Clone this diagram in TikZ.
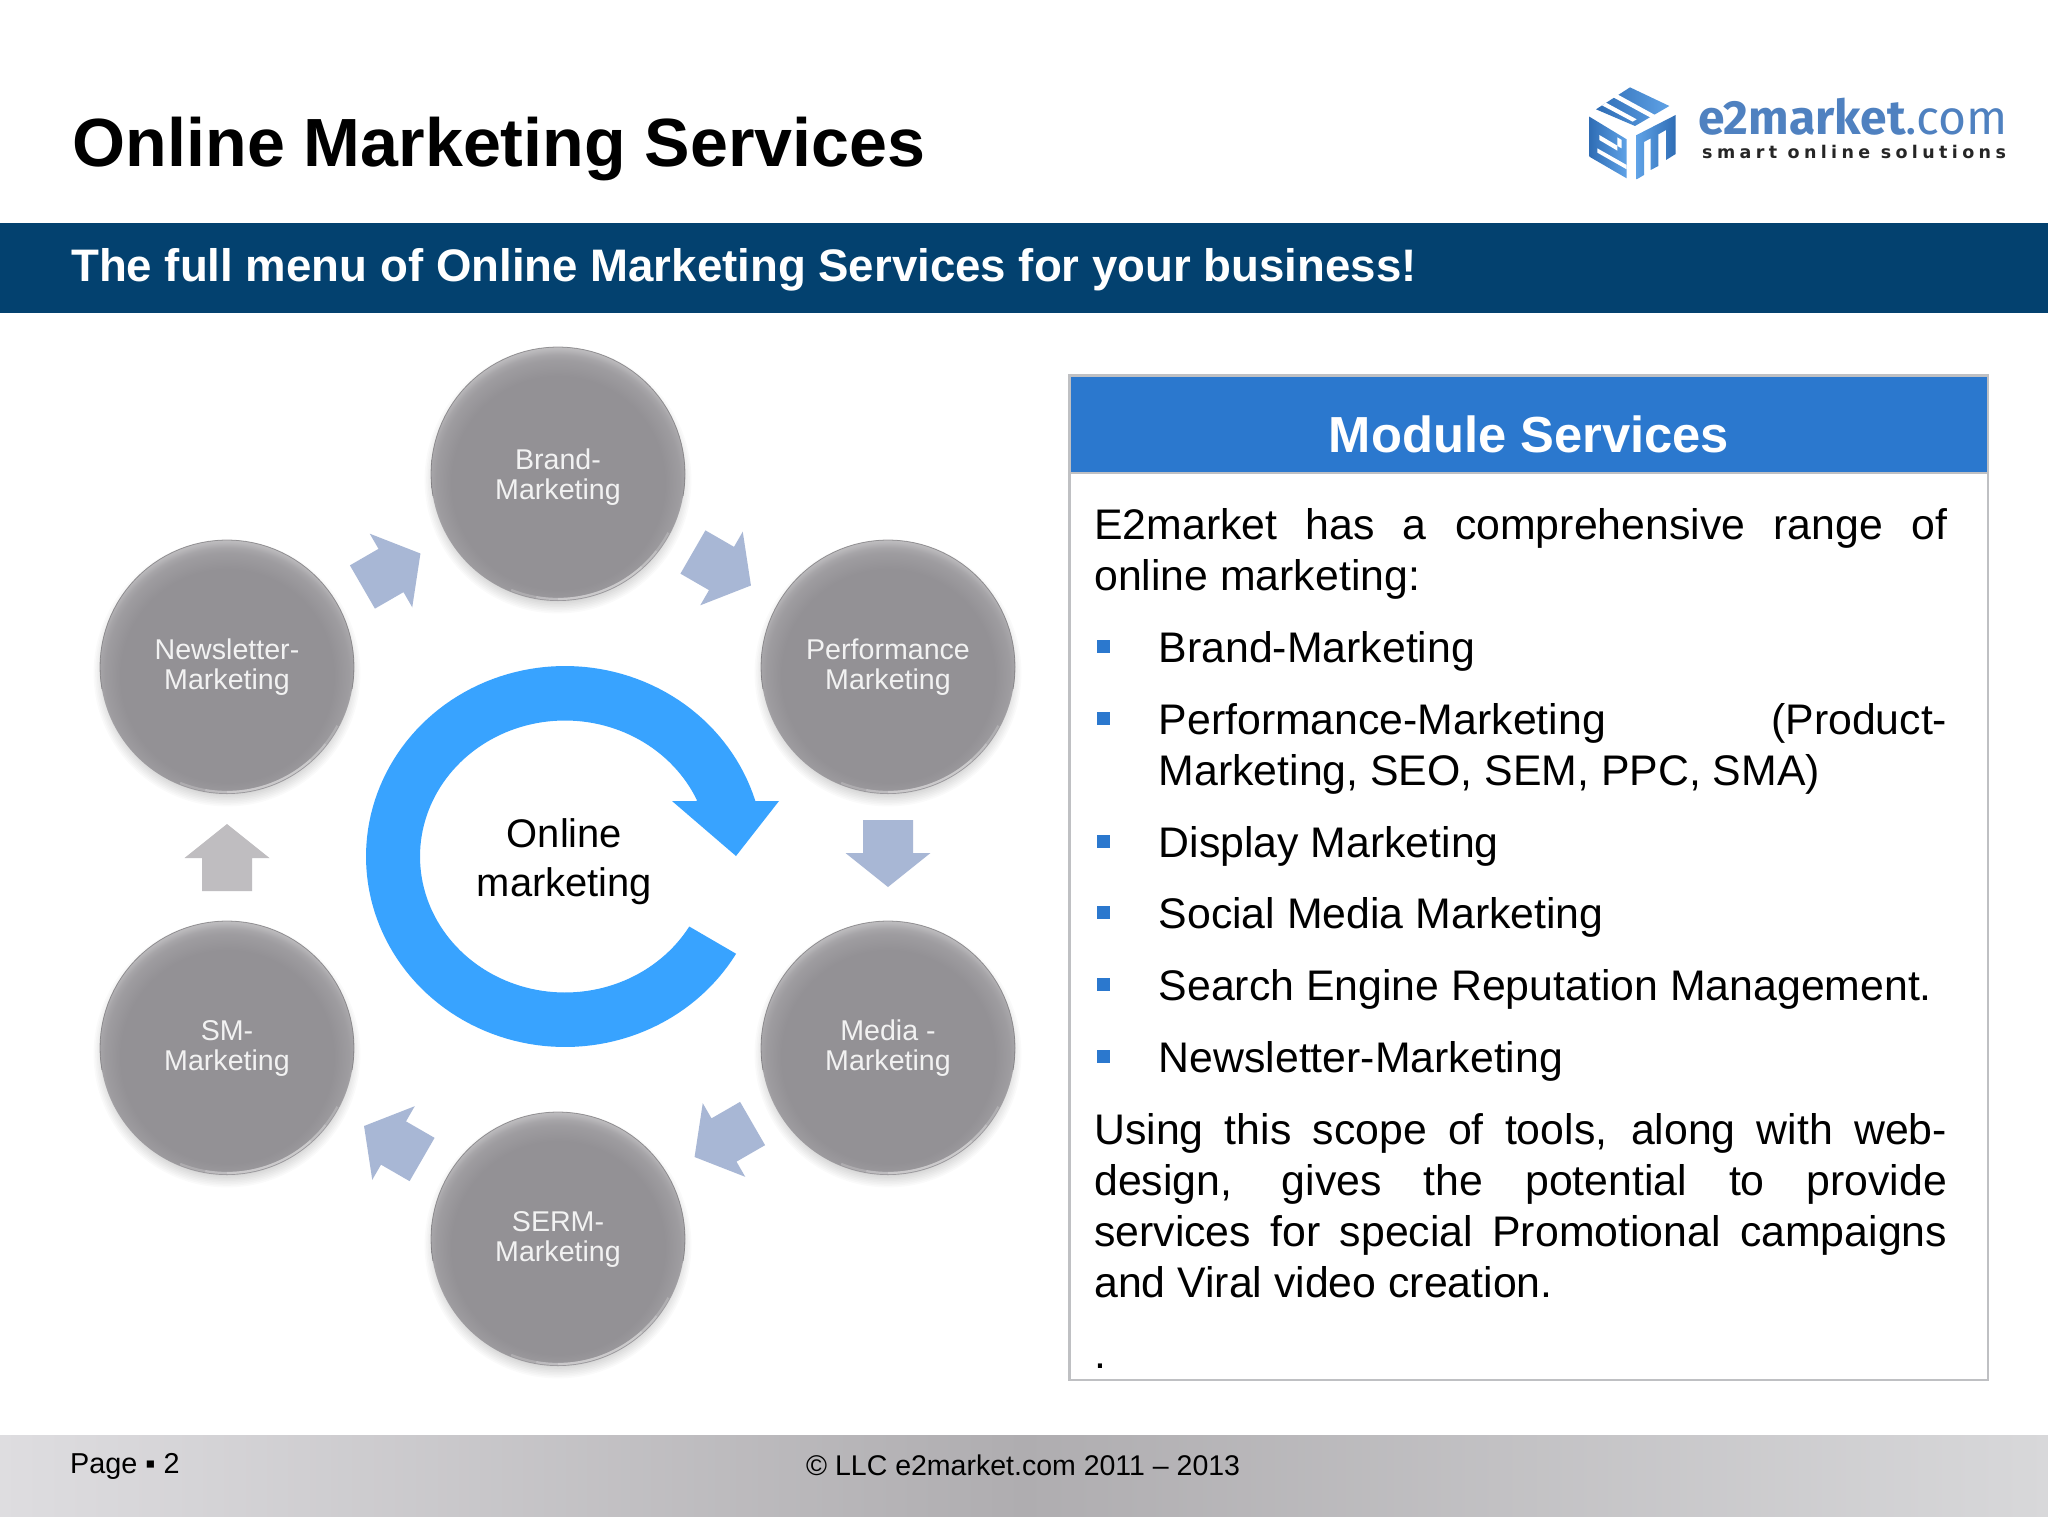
\documentclass[tikz,border=0pt]{standalone}
\usepackage{fontspec}
\setmainfont{Liberation Sans}
\newfontfamily\logofont{Fira Sans}
\newfontfamily\logosub[LetterSpace=25]{DejaVu Sans}
\usetikzlibrary{shapes.geometric}
\definecolor{banner}{HTML}{03416F}
\definecolor{hdr}{HTML}{2B78CE}
\definecolor{panelline}{HTML}{BFC0C3}
\definecolor{ring}{HTML}{38A3FF}
\definecolor{blockblue}{HTML}{A8B7D5}
\definecolor{blockgrey}{HTML}{BFBDC0}
\definecolor{ballbase}{HTML}{939195}
\definecolor{balltext}{HTML}{F2F2F2}
\definecolor{logoblue}{HTML}{4F81C0}
\definecolor{logodark}{HTML}{2F6DB5}
\definecolor{logolight}{HTML}{5FA2E6}
\definecolor{footleft}{HTML}{DEDDE0}
\definecolor{footmid}{HTML}{AFADB0}
\definecolor{footright}{HTML}{D8D8DA}
\pgfdeclareradialshading{discshade}{\pgfpoint{0bp}{-3bp}}{
 color(0bp)=(ballbase);
 color(21bp)=(ballbase);
 color(24bp)=(ballbase!90!white);
 color(25bp)=(ballbase!82!white);
 color(26bp)=(ballbase!65!white);
 color(27bp)=(ballbase!52!white);
 color(27.6bp)=(ballbase!70!white);
 color(28bp)=(ballbase!90!black);
 color(50bp)=(ballbase!90!black)}
\tikzset{
 x=1pt,y=-1pt,
 ball/.style={circle,minimum size=254pt,inner sep=0pt,shade,shading=discshade},
 balltextnode/.style={inner sep=0pt,text=balltext,align=center,font=\fontsize{28.6}{30}\selectfont},
 bodyline/.style={anchor=base west,inner sep=0pt,align=left,font=\fontsize{42.8}{51}\selectfont},
 bulletmark/.style={fill=hdr},
 pics/blockarrow/.style={code={\fill[#1] (-33,-25)--(0,-25)--(0,-42.5)--(34,0)--(0,42.5)--(0,25)--(-33,25)--cycle;}},
}
\newcommand{\ball}[5]{%
 \foreach \i in {0,...,9}{\fill[black,opacity=0.018] (#2,#3+6) circle[radius=119+\i*1.6];}
 \node[ball] (#1) at (#2,#3) {};
 \draw[white,opacity=0.2,line width=2.2pt] plot[domain=28:112,samples=30] ({#2+125*cos(\x)},{#3+125*sin(\x)});
 \draw[white,opacity=0.2,line width=2.2pt] plot[domain=38:100,samples=30] ({#2+125*cos(\x)},{#3+125*sin(\x)});
 \draw[white,opacity=0.2,line width=2.2pt] plot[domain=48:90,samples=30] ({#2+125*cos(\x)},{#3+125*sin(\x)});
 \draw[ballbase!70!black,opacity=0.6,line width=0.8pt] plot[domain=-190:10,samples=60] ({#2+127*cos(\x)},{#3+127*sin(\x)});
 \node[balltextnode] (#1text) at (#2,#3+#5) {#4};
}
\newcommand{\jline}[2]{\makebox[#1pt][s]{#2}}
\begin{document}
\begin{tikzpicture}
\useasboundingbox (0,0) rectangle (2048,1536);
\fill[white] (0,0) rectangle (2048,1536);
% title
\node[anchor=base west,inner sep=0pt,font=\fontsize{68.2}{70}\selectfont\bfseries] (title) at (72.5,166) {Online Marketing Services};
\fill[banner] (0,223) rectangle (2048,313);
\node[anchor=base west,inner sep=0pt,text=white,font=\fontsize{45.6}{47}\selectfont\bfseries] (subtitle) at (71,281) {The full menu of Online Marketing Services for your business!};
% logo
\begin{scope}[shift={(1580,80)},scale=0.3333]
 \shade[left color=logodark,right color=logolight,shading angle=90] (28,110)--(140,178)--(140,295)--(28,230)--cycle;
 \shade[left color=logolight,right color=logodark] (170,165)--(287,105)--(287,222)--(258,240)--(258,150)--(235,163)--(235,258)--(212,270)--(212,175)--(192,186)--(192,285)--(170,298)--cycle;
 \shade[left color=logodark,right color=logolight] (48,88)--(150,22)--(268,78)--(165,138)--cycle;
 \fill[white] (58,165)--(112,197)--(112,212)--(58,180)--cycle;
 \fill[white] (52,205)--(140,255)--(140,268)--(52,218)--cycle;
 \fill[white] (110,42)--(225,105)--(212,113)--(100,52)--cycle;
 \fill[white] (78,68)--(170,118)--(158,125)--(66,76)--cycle;
 \fill[white] (112,198)--(125,205)--(125,180)--(112,172)--cycle;
\end{scope}
\node[anchor=base west,inner sep=0pt,text=logoblue,font=\logofont\fontsize{48}{50}\selectfont] (logotext) at (1698,135) {\textbf{e2market}.com};
\node[anchor=base west,inner sep=0pt,text=black!85,font=\logosub\fontsize{17.5}{18}\selectfont\bfseries] (logosub) at (1702,158) {smart online solutions};
% balls
\ball{brand}{558}{474}{Brand-\\Marketing}{3}
\ball{perf}{888}{667}{Performance\\Marketing}{0.5}
\ball{media}{888}{1048}{Media -\\Marketing}{0.5}
\ball{serm}{558}{1239}{SERM-\\Marketing}{0.5}
\ball{sm}{227}{1048}{SM-\\Marketing}{0.5}
\ball{news}{227}{667}{Newsletter-\\Marketing}{0.5}
% block arrows between the balls
\pic[rotate=30] (arrowA) at (391,570.5) {blockarrow=blockblue};
\pic[rotate=-30] (arrowB) at (721.5,568.5) {blockarrow=blockblue};
\pic[rotate=-90] (arrowC) at (888,853) {blockarrow=blockblue};
\pic[rotate=210] (arrowD) at (724,1140) {blockarrow=blockblue};
\pic[rotate=150] (arrowE) at (393.5,1143) {blockarrow=blockblue};
\pic[rotate=90] (arrowF) at (227,858) {blockarrow=blockgrey};
% central ring
\fill[ring] (736,856)--(779,801)--(754,801)
 -- plot[domain=-17:-329.3,samples=140] ({565+199*cos(\x)},{856.5+190.5*sin(\x)})
 -- plot[domain=-329:-24.3,samples=140] ({565+145*cos(\x)},{856.5+136*sin(\x)})
 -- (696,801)--(672,801)--cycle;
\node[align=center,inner sep=0pt,font=\fontsize{39.9}{49}\selectfont] (center) at (564.5,861.5) {Online\\marketing};
% panel
\draw[panelline,line width=2.6pt,fill=white] (1069.5,375.5) rectangle (1988,1380);
\fill[hdr] (1071,377) rectangle (1986.7,472);
\draw[panelline,line width=2.6pt] (1071,473) -- (1986.7,473);
\node[anchor=base,inner sep=0pt,text=white,font=\fontsize{50.7}{52}\selectfont\bfseries] (modhead) at (1529,452) {Module Services};
\node[bodyline] (p1) at (1094,590) {\jline{853}{E2market has a comprehensive range of}\\online marketing:};
\node[bodyline] (i1) at (1158.5,662) {Brand-Marketing};
\node[bodyline] (i2) at (1158.5,785) {\jline{788.5}{Performance-Marketing (Product-}\\Marketing, SEO, SEM, PPC, SMA)};
\node[bodyline] (i3) at (1158.5,857) {Display Marketing};
\node[bodyline] (i4) at (1158.5,928) {Social Media Marketing};
\node[bodyline] (i5) at (1158.5,1000) {Search Engine Reputation Management.};
\node[bodyline] (i6) at (1158.5,1072) {Newsletter-Marketing};
\foreach \b in {662,734,857,928,1000,1072}{\fill[bulletmark] (1097,\b-22) rectangle (1110,\b-9);}
\node[bodyline] (p2) at (1094,1297) {\jline{853}{Using this scope of tools, along with web-}\\\jline{853}{design, gives the potential to provide}\\\jline{853}{services for special Promotional campaigns}\\and Viral video creation.};
\node[bodyline] (dot) at (1094,1368) {.};
% footer
\shade[left color=footleft,right color=footright,middle color=footmid] (0,1435) rectangle (2048,1516);
\node[anchor=base west,inner sep=0pt,font=\fontsize{28.8}{30}\selectfont] (page) at (70,1473) {Page ▪ 2};
\node[anchor=base west,inner sep=0pt,font=\fontsize{28.5}{30}\selectfont] (copy) at (806,1475) {© LLC e2market.com 2011 – 2013};
\end{tikzpicture}
\end{document}
